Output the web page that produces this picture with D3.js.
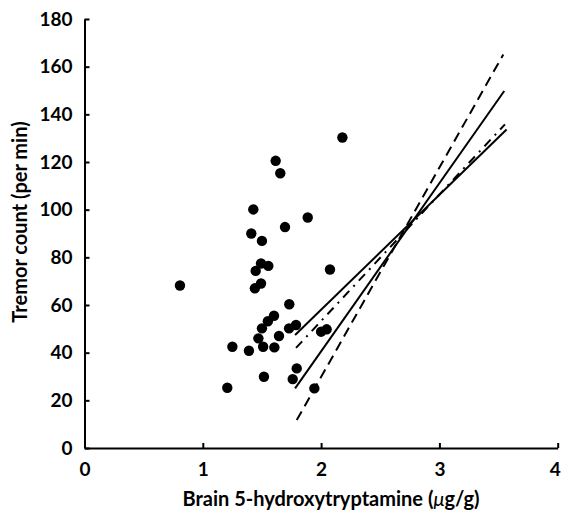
<!DOCTYPE html>
<html>
<head>
<meta charset="utf-8">
<script src="https://cdn.jsdelivr.net/npm/d3@7"></script>
<style>
  html, body { margin: 0; padding: 0; background: #fff; }
  svg { display: block; }
  text { font-family: Lato, "Open Sans", sans-serif; font-weight: bold; fill: #000; }
</style>
</head>
<body>
<svg id="chart" width="562" height="510"></svg>
<script>
// ---- data ----
const xTicks = [0, 1, 2, 3, 4];
const yTicks = [0, 20, 40, 60, 80, 100, 120, 140, 160, 180];
const xLabel = "Brain 5-hydroxytryptamine (";
const yLabel = "Tremor count (per min)";

// Brain 5-HT (µg/g)
const serotonin = [2.18, 1.616, 1.655, 1.427, 1.887, 1.41, 1.695, 1.50, 1.492, 1.554,
  1.447, 2.075, 0.807, 1.492, 1.44, 1.731, 1.602, 1.55, 1.50, 1.729,
  1.788, 1.644, 2.0, 2.047, 1.47, 1.25, 1.51, 1.605, 1.39, 1.517,
  1.207, 1.794, 1.76, 1.943];
// Tremor count (per min)
const tremor = [130.3, 120.5, 115.3, 100.1, 96.7, 90.0, 92.7, 86.9, 77.4, 76.4,
  74.3, 74.9, 68.2, 69.0, 67.0, 60.3, 55.5, 53.2, 50.2, 50.2,
  51.6, 47.0, 48.8, 49.8, 46.0, 42.5, 42.5, 42.2, 40.8, 29.9,
  25.3, 33.4, 28.9, 25.0];

// regression lines (end points in data units)
const solidSteep   = [[1.78, 25.0], [3.548, 149.8]];
const solidShallow = [[1.78, 47.4], [3.568, 133.6]];
const dashSteep    = [[1.794, 11.7], [3.54, 165.1]];
const dashShallow  = [[1.788, 42.0], [3.554, 135.8]];

// ---- layout ----
const svg = d3.select("#chart");
const x = d3.scaleLinear().domain([0, 4]).range([84.5, 557.7]);
const y = d3.scaleLinear().domain([0, 180]).range([448, 19]);

// axes
const gx = svg.append("g").attr("transform", `translate(0,${y(0)})`)
  .call(d3.axisBottom(x).tickValues(xTicks).tickSizeInner(-5).tickSizeOuter(0).tickPadding(15)
    .tickFormat(d3.format("d")));
const gy = svg.append("g").attr("transform", `translate(${x(0)},0)`)
  .call(d3.axisLeft(y).tickValues(yTicks).tickSizeInner(-5).tickSizeOuter(0).tickPadding(12)
    .tickFormat(d3.format("d")));
[gx, gy].forEach(g => {
  g.select(".domain").attr("stroke", "#000").attr("stroke-width", 2);
  g.selectAll(".tick line").attr("stroke", "#000").attr("stroke-width", 2);
  g.selectAll(".tick text").attr("font-family", "Lato, sans-serif").attr("font-weight", "bold")
    .attr("font-size", 19).attr("fill", "#000");
});
// keep the last x label inside the picture
gx.selectAll(".tick text").filter(d => d === xTicks[xTicks.length - 1]).attr("dx", -3);

// axis titles
const xt = svg.append("text")
  .attr("x", 331).attr("y", 506)
  .attr("text-anchor", "middle").attr("font-size", 20);
xt.append("tspan").text(xLabel);
xt.append("tspan").attr("font-style", "italic").attr("font-weight", "normal").text("\u03bc");
xt.append("tspan").text("g/g)");

svg.append("text")
  .attr("transform", "translate(27,222) rotate(-90)")
  .attr("text-anchor", "middle").attr("font-size", 20)
  .text(yLabel);

// lines
const line = d3.line().x(d => x(d[0])).y(d => y(d[1]));
const lines = [
  { d: solidSteep, dash: null },
  { d: solidShallow, dash: null },
  { d: dashSteep, dash: "10,6" },
  { d: dashShallow, dash: "9,6,2,6" }
];
svg.append("g").selectAll("path").data(lines).join("path")
  .attr("d", l => line(l.d))
  .attr("fill", "none").attr("stroke", "#000").attr("stroke-width", 2)
  .attr("stroke-dasharray", l => l.dash);

// points
svg.append("g").selectAll("circle").data(serotonin).join("circle")
  .attr("cx", (d) => x(d))
  .attr("cy", (d, i) => y(tremor[i]))
  .attr("r", 5.2)
  .attr("fill", "#000");
</script>
</body>
</html>
